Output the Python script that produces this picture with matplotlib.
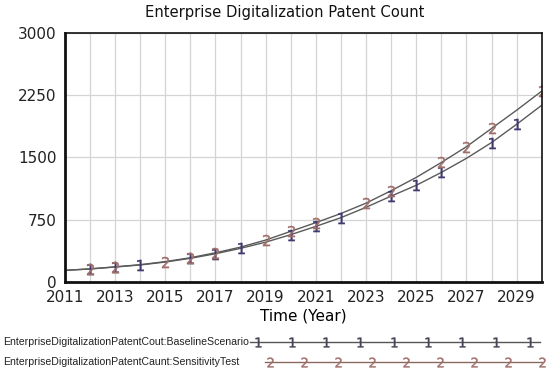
import numpy as np
import matplotlib.pyplot as plt

# data
years = np.arange(2011, 2031)
baseline = [140, 157, 180, 205, 240, 285, 340, 405, 480, 570,
            670, 775, 900, 1035, 1165, 1320, 1490, 1680, 1900, 2130]
sensitivity = [140, 157, 182, 208, 245, 292, 352, 420, 505, 610,
               715, 825, 950, 1100, 1260, 1440, 1630, 1850, 2070, 2300]
mark_years_1 = [2012, 2013, 2014, 2016, 2017, 2018, 2020, 2021, 2022,
                2024, 2025, 2026, 2028, 2029]
mark_years_2 = [2012, 2013, 2015, 2016, 2017, 2019, 2020, 2021, 2023,
                2024, 2026, 2027, 2028, 2030]
xticks = np.arange(2011, 2031, 2)
yticks = [0, 750, 1500, 2250, 3000]
label_1 = "EnterpriseDigitalizationPatentCout:BaselineScenario"
label_2 = "EnterpriseDigitalizationPatentCaunt:SensitivityTest"

c_line = '#5a5a5a'
c_1 = '#3e3a6e'
c_2 = '#a06e6a'

fig = plt.figure(figsize=(5.5, 3.71), dpi=100)
ax = fig.add_axes([0.118, 0.240, 0.867, 0.671])

ax.plot(years, baseline, color=c_line, lw=1.0)
ax.plot(years, sensitivity, color=c_line, lw=1.0)

sel1 = [baseline[list(years).index(y)] for y in mark_years_1]
sel2 = [sensitivity[list(years).index(y)] for y in mark_years_2]
ax.plot(mark_years_1, sel1, ls='none', marker='$1$', ms=8, mew=0.3, color=c_1)
ax.plot(mark_years_2, sel2, ls='none', marker='$2$', ms=8, mew=0.3, color=c_2)

ax.set_xlim(2011, 2030)
ax.set_ylim(0, 3000)
ax.set_xticks(np.arange(2011, 2031), minor=True)
ax.set_xticks(xticks)
ax.set_yticks(yticks)
ax.grid(True, which='both', axis='x', color='#d4d4d4', lw=0.9)
ax.grid(True, axis='y', color='#d4d4d4', lw=0.9)
ax.tick_params(which='both', length=0, labelsize=11, colors='#222222', pad=6)
for s in ax.spines.values():
    s.set_color('#111111')
    s.set_linewidth(1.2)
ax.spines['left'].set_linewidth(2)
ax.spines['bottom'].set_linewidth(2)
ax.set_axisbelow(True)

ax.set_xlabel("Time (Year)", fontsize=11, labelpad=2)

# title and legend drawn in pixel space
lg = fig.add_axes([0, 0, 1, 1], facecolor='none')
lg.set_xlim(0, 550)
lg.set_ylim(371, 0)
lg.axis('off')
lg.text(285, 13, "Enterprise Digitalization Patent Count", fontsize=10.6,
        ha='center', va='center', color='#111111')
lg.text(3, 342, label_1, fontsize=7.6, family='Liberation Sans', va='center', color='#222222')
lg.text(3, 362, label_2, fontsize=7.6, family='Liberation Sans', va='center', color='#222222')
lg.plot([250, 540], [342, 342], color='#555555', lw=1)
lg.plot([265, 542], [362, 362], color='#8a6a60', lw=1)
m1 = np.arange(258, 541, 34)
m2 = np.arange(270, 545, 34)
lg.plot(m1, [342] * len(m1), ls='none', marker='$1$', ms=7, mew=0.3, color='#444455')
lg.plot(m2, [362] * len(m2), ls='none', marker='$2$', ms=7, mew=0.3, color=c_2)

fig.savefig('out.png', dpi=100)
